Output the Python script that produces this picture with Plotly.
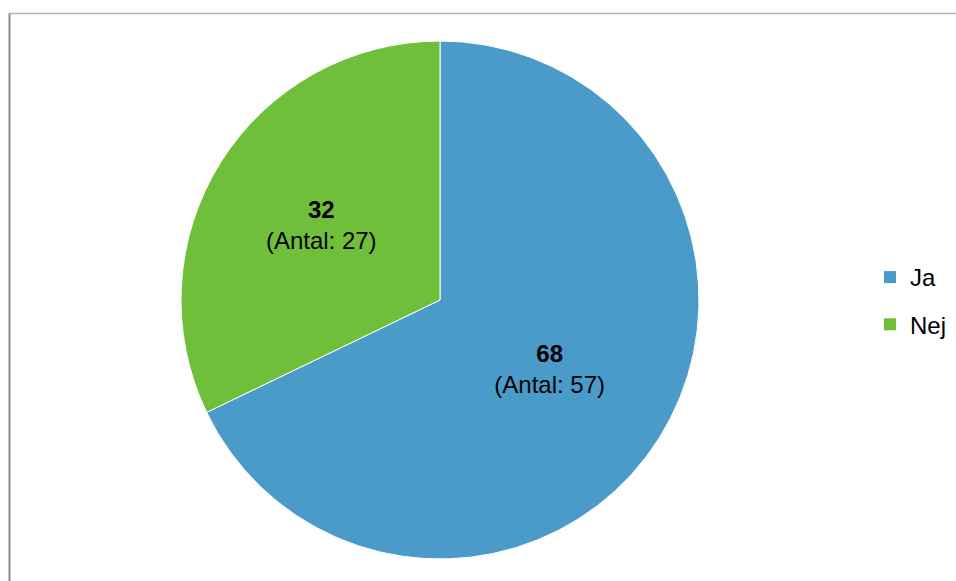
import plotly.graph_objects as go

labels = ["Ja", "Nej"]
counts = [57, 27]
percents = [68, 32]
colors = ["#4A9BCA", "#70BF3A"]

W, H = 956, 581
cx, cy, r = 440, 300, 259
FONT = "Liberation Sans, Arial, sans-serif"

fig = go.Figure()
fig.add_trace(go.Pie(
    labels=labels,
    values=counts,
    customdata=percents,
    sort=False,
    direction="clockwise",
    rotation=0,
    marker=dict(colors=colors, line=dict(color="white", width=1)),
    texttemplate="<b>%{customdata}</b><br>(Antal: %{value})",
    textposition="inside",
    insidetextorientation="horizontal",
    textfont=dict(family=FONT, size=24, color="black"),
    domain=dict(x=[(cx - r) / W, (cx + r) / W], y=[(H - cy - r) / H, (H - cy + r) / H]),
    hoverinfo="label+value+percent",
    showlegend=False,
))

# legend entries
for i, (lab, col) in enumerate(zip(labels, colors)):
    fig.add_trace(go.Scatter(
        x=[None], y=[None], mode="markers", name=lab,
        legendgroup=f"g{i}",
        marker=dict(symbol="square", size=12, color=col, line=dict(width=0)),
        hoverinfo="skip",
    ))

fig.update_layout(
    width=W, height=H,
    margin=dict(l=0, r=0, t=0, b=0),
    paper_bgcolor="white",
    plot_bgcolor="white",
    font=dict(family=FONT, size=24, color="black"),
    showlegend=True,
    uniformtext=dict(minsize=10, mode="show"),
    xaxis=dict(visible=False),
    yaxis=dict(visible=False),
    legend=dict(
        x=(870) / W, y=(H - 301) / H, xanchor="left", yanchor="middle",
        font=dict(family=FONT, size=24, color="black"),
        itemwidth=30,
        tracegroupgap=13,
        traceorder="grouped",
        bgcolor="rgba(0,0,0,0)",
    ),
    shapes=[
        dict(type="line", xref="paper", yref="paper",
             x0=9.5 / W, x1=9.5 / W, y0=0, y1=(H - 13) / H,
             line=dict(color="#8c8c8c", width=2)),
        dict(type="line", xref="paper", yref="paper",
             x0=9 / W, x1=1, y0=(H - 13.5) / H, y1=(H - 13.5) / H,
             line=dict(color="#b4b4b4", width=1.5)),
    ],
)

fig.write_html(
    "out.html",
    config={"displayModeBar": False},
    post_script="document.body.style.margin='0';document.body.style.padding='0';",
)
